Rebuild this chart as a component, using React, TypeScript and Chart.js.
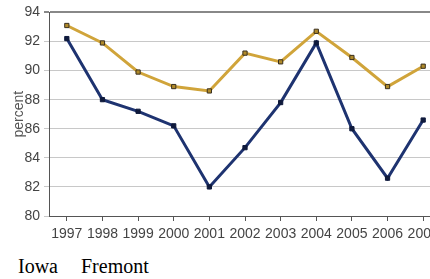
import React, { useEffect, useRef } from "react";
import { Chart, registerables } from "chart.js";

Chart.register(...registerables);

const years = ["1997", "1998", "1999", "2000", "2001", "2002", "2003", "2004", "2005", "2006", "2007"];
const iowa = [92.2, 88.0, 87.2, 86.2, 82.0, 84.7, 87.8, 91.9, 86.0, 82.6, 86.6];
const fremont = [93.1, 91.9, 89.9, 88.9, 88.6, 91.2, 90.6, 92.7, 90.9, 88.9, 90.3];
const yTicks = [80, 82, 84, 86, 88, 90, 92, 94];
const legendNames = ["Iowa", "Fremont"];

export default function App() {
  const ref = useRef<HTMLCanvasElement | null>(null);

  useEffect(() => {
    if (!ref.current) return;
    const font = { family: "'Liberation Sans', Arial, sans-serif", size: 14 };
    const chart = new Chart(ref.current, {
      type: "line",
      data: {
        labels: years,
        datasets: [
          {
            label: legendNames[0],
            data: iowa,
            borderColor: "#1E3370",
            borderWidth: 3,
            pointStyle: "rect",
            pointRadius: 3,
            pointBackgroundColor: "#0f1a3c",
            pointBorderColor: "#0f1a3c",
            pointBorderWidth: 1,
            tension: 0,
          },
          {
            label: legendNames[1],
            data: fremont,
            borderColor: "#D0A43A",
            borderWidth: 3,
            pointStyle: "rect",
            pointRadius: 3,
            pointBackgroundColor: "#b08a2a",
            pointBorderColor: "#3a3020",
            pointBorderWidth: 1,
            tension: 0,
          },
        ],
      },
      options: {
        responsive: false,
        animation: false,
        layout: { padding: { top: 10, left: 0, right: 0, bottom: 0 } },
        plugins: { legend: { display: false }, tooltip: { enabled: false } },
        scales: {
          x: {
            offset: true,
            grid: { display: true, drawOnChartArea: false, offset: false, tickLength: 5, color: "#555" },
            border: { color: "#555", width: 1 },
            ticks: { autoSkip: false, maxRotation: 0, minRotation: 0, padding: 5, color: "#444", font },
            afterFit: (s: any) => { s.height = 34; },
          },
          y: {
            min: 80,
            max: 94,
            afterBuildTicks: (s: any) => { s.ticks = yTicks.map((v) => ({ value: v })); },
            grid: {
              tickLength: 5,
              color: (c: any) => (c.tick && c.tick.value === 94 ? "#888" : "#c8c8c8"),
              lineWidth: (c: any) => (c.tick && c.tick.value === 94 ? 2 : 1),
            },
            border: { color: "#555", width: 1 },
            ticks: { padding: 4, color: "#444", font },
            title: { display: true, text: "percent", color: "#555", font, padding: { top: 11, bottom: 0 } },
            afterFit: (s: any) => { s.width = 49; },
          },
        },
      },
    });
    return () => chart.destroy();
  }, []);

  return (
    <div style={{ position: "absolute", left: 0, top: 0, width: 430, height: 279, overflow: "hidden", background: "#fff" }}>
      <canvas ref={ref} width={446} height={250} style={{ display: "block", width: 446, height: 250 }} />
      <span style={{ position: "absolute", left: 18, top: 255, font: "20px 'Liberation Serif', 'Times New Roman', serif", color: "#000", lineHeight: "23px" }}>{legendNames[0]}</span>
      <span style={{ position: "absolute", left: 81, top: 255, font: "20px 'Liberation Serif', 'Times New Roman', serif", color: "#000", lineHeight: "23px" }}>{legendNames[1]}</span>
    </div>
  );
}
